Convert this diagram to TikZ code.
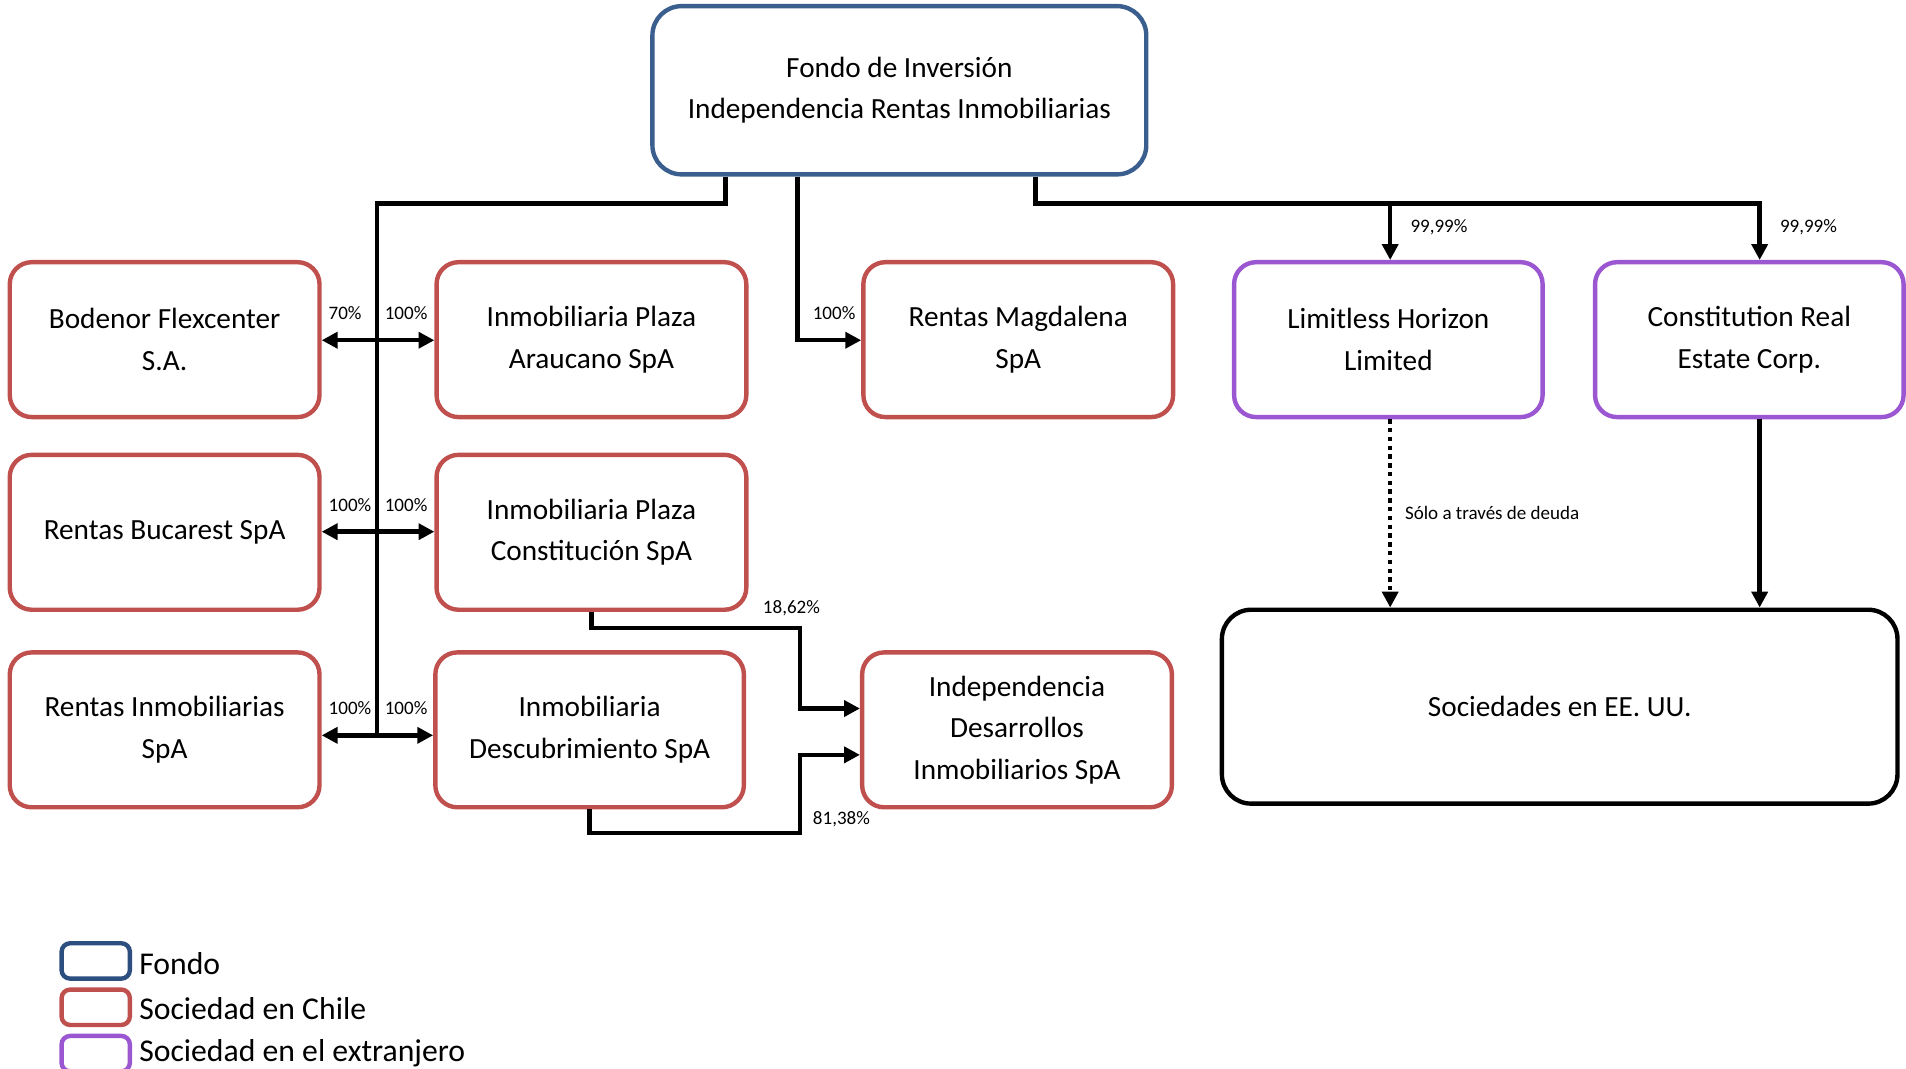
\documentclass[tikz,border=0pt]{standalone}
\usepackage{fontspec}
\setmainfont{Carlito}
\usetikzlibrary{arrows.meta,calc}
\definecolor{fblue}{HTML}{3A5F8E}
\definecolor{lblue}{HTML}{2C4F80}
\definecolor{cred}{HTML}{C0504D}
\definecolor{cpurple}{HTML}{9B57D1}
\tikzset{
  basebox/.style={draw, line width=3.6pt, fill=white, align=center, inner sep=0pt,
    font=\fontsize{24}{34}\selectfont},
  fondobox/.style={basebox, draw=fblue, rounded corners=24pt, minimum width=405pt, minimum height=138pt},
  chbox/.style={basebox, draw=cred, rounded corners=18pt, minimum width=254pt, minimum height=127pt},
  exbox/.style={basebox, draw=cpurple, rounded corners=18pt, minimum width=253pt, minimum height=127pt},
  usbox/.style={basebox, draw=black, rounded corners=24pt, minimum width=554pt, minimum height=159pt},
  conn/.style={line width=3.6pt, line join=miter, -{Triangle[length=13pt,width=13pt]}},
  bconn/.style={line width=3.6pt, {Triangle[length=13pt,width=13pt]}-{Triangle[length=13pt,width=13pt]}},
  plain/.style={line width=3.6pt, line join=miter},
  pct/.style={font=\fontsize{15.6}{17}\selectfont, inner sep=0pt},
  legbox/.style={draw, line width=3.6pt, rounded corners=7pt, minimum width=56pt, minimum height=29pt, inner sep=0pt},
  legtext/.style={anchor=west, font=\fontsize{26}{30}\selectfont, inner sep=0pt},
}
\begin{document}
\begin{tikzpicture}[x=1pt,y=-1pt]
\useasboundingbox (0,0) rectangle (1563,876);

% boxes
\node[fondobox] (fondo) at (737.5,74) {Fondo de Inversión\\Independencia Rentas Inmobiliarias};
\node[chbox] (bodenor) at (135,278.5) {Bodenor Flexcenter\\S.A.};
\node[chbox] (arauc) at (485,278.5) {Inmobiliaria Plaza\\Araucano SpA};
\node[chbox] (magd) at (835,278.5) {Rentas Magdalena\\SpA};
\node[exbox] (limit) at (1138.5,278.5) {Limitless Horizon\\Limited};
\node[exbox] (const) at (1434.5,278.5) {Constitution Real\\Estate Corp.};
\node[chbox] (bucar) at (135,436.5) {Rentas Bucarest SpA};
\node[chbox] (pconst) at (485,436.5) {Inmobiliaria Plaza\\Constitución SpA};
\node[chbox] (rinmob) at (135,598.5) {Rentas Inmobiliarias\\SpA};
\node[chbox, minimum width=253pt] (desc) at (483.5,598.5) {Inmobiliaria\\Descubrimiento SpA};
\node[chbox] (indep) at (834,598.5) {Independencia\\Desarrollos\\Inmobiliarios SpA};
\node[usbox] (usa) at (1279,579.5) {Sociedades en EE. UU.};

% trunk
\coordinate (tk) at (309,603);
\draw[plain] (fondo.south -| 595,0) |- (309,167) -- (tk);
\draw[bconn] (bodenor.east |- 0,279) -- (arauc.west |- 0,279);
\draw[bconn] (bucar.east |- 0,436) -- (pconst.west |- 0,436);
\draw[bconn] (rinmob.east |- tk) -- (desc.west |- tk);

% magdalena
\draw[conn] (fondo.south -| 654,0) |- (magd.west |- 0,279);

% foreign
\coordinate (rj) at (1443,167);
\draw[conn] (fondo.south -| 849,0) |- (rj) -- (const.north -| rj);
\draw[conn] (1140,167) -- (limit.north -| 1140,0);
\draw[line width=3.6pt, dash pattern=on 3.6pt off 3.6pt, -{Triangle[length=13pt,width=13pt]}] (limit.south -| 1140,0) -- (usa.north -| 1140,0);
\draw[conn] (const.south -| rj) -- (usa.north -| rj);

% desarrollos
\draw[conn] (pconst.south) -- (pconst.south |- 0,515) -- (656,515) -- (656,581) -- (indep.west |- 0,581);
\draw[conn] (desc.south) -- (desc.south |- 0,683) -- (656,683) -- (656,619) -- (indep.west |- 0,619);

% labels
\node[pct] (l1) at (283,257) {70\%};
\node[pct] (l2) at (333,257) {100\%};
\node[pct] (l3) at (287,414) {100\%};
\node[pct] (l4) at (333,414) {100\%};
\node[pct] (l5) at (287,581) {100\%};
\node[pct] (l6) at (333,581) {100\%};
\node[pct] (l7) at (684,257) {100\%};
\node[pct] (l8) at (1180,186) {99,99\%};
\node[pct] (l9) at (1483,186) {99,99\%};
\node[pct, anchor=west] (l10) at (1152,421) {Sólo a través de deuda};
\node[pct] (l11) at (649,499) {18,62\%};
\node[pct] (l12) at (690,672) {81,38\%};

% legend
\node[legbox, draw=lblue] (lg1) at (78.5,788) {};
\node[legbox, draw=cred] (lg2) at (78.5,826) {};
\node[legbox, draw=cpurple] (lg3) at (78.5,864) {};
\node[legtext] (lt1) at (114,790) {Fondo};
\node[legtext] (lt2) at (114,827) {Sociedad en Chile};
\node[legtext] (lt3) at (114,864) {Sociedad en el extranjero};
\end{tikzpicture}
\end{document}
